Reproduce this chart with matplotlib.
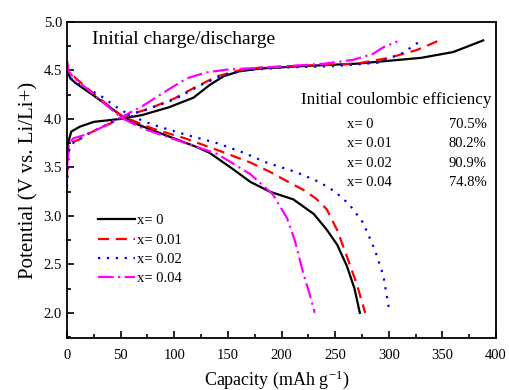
import numpy as np
import matplotlib.pyplot as plt
from matplotlib.ticker import MultipleLocator

plt.rcParams['font.family'] = ['Liberation Serif', 'DejaVu Serif']
plt.rcParams['mathtext.fontset'] = 'stix'

labels = ['x= 0', 'x= 0.01', 'x= 0.02', 'x= 0.04']
colors = ['black', 'red', 'blue', 'magenta']
styles = ['-', (0, (5, 3)), (0, (1, 3)), (0, (7, 2, 1, 2))]

# charge curves (capacity mAh/g, potential V)
chg_cap = [
    [0, 1, 4, 12, 25, 50, 70, 95, 118, 133, 146, 160, 180, 220, 270, 300, 330, 360, 388],
    [0, 1, 5, 12, 24, 40, 51, 75, 100, 120, 140, 160, 180, 220, 270, 300, 326, 347],
    [0, 2, 8, 20, 35, 51, 75, 100, 125, 145, 165, 200, 250, 290, 313, 329],
    [0, 2, 6, 15, 30, 51, 70, 87, 100, 112, 130, 150, 200, 240, 267, 285, 295, 308],
]
chg_v = [
    [3.6, 3.75, 3.87, 3.92, 3.97, 4.0, 4.04, 4.12, 4.22, 4.35, 4.44, 4.49, 4.52, 4.545, 4.57, 4.6, 4.63, 4.69, 4.81],
    [3.4, 3.65, 3.76, 3.79, 3.87, 3.95, 4.02, 4.1, 4.21, 4.33, 4.44, 4.5, 4.53, 4.55, 4.57, 4.63, 4.71, 4.81],
    [3.3, 3.7, 3.78, 3.85, 3.93, 4.02, 4.1, 4.2, 4.35, 4.45, 4.5, 4.53, 4.545, 4.58, 4.68, 4.8],
    [3.5, 3.75, 3.8, 3.83, 3.9, 4.02, 4.13, 4.25, 4.34, 4.42, 4.48, 4.51, 4.54, 4.57, 4.61, 4.67, 4.74, 4.8],
]

# discharge curves
dis_cap = [
    [0, 1, 3, 8, 25, 50, 62, 90, 121, 133, 155, 171, 189, 211, 230, 242, 252, 261, 268, 273],
    [0, 1, 4, 25, 51, 80, 110, 140, 171, 190, 208, 220, 232, 242, 252, 261, 270, 278],
    [0, 3, 15, 30, 45, 60, 80, 110, 140, 165, 186, 214, 235, 250, 263, 276, 287, 295, 300],
    [0, 1, 5, 25, 51, 71, 100, 140, 171, 192, 205, 212, 220, 226, 231],
]
dis_v = [
    [4.55, 4.48, 4.42, 4.37, 4.24, 4.04, 3.96, 3.84, 3.71, 3.65, 3.48, 3.35, 3.25, 3.17, 3.02, 2.86, 2.7, 2.48, 2.25, 2.0],
    [4.6, 4.52, 4.46, 4.26, 4.03, 3.9, 3.8, 3.68, 3.55, 3.45, 3.34, 3.27, 3.18, 3.07, 2.85, 2.58, 2.3, 2.0],
    [4.5, 4.42, 4.33, 4.25, 4.13, 4.03, 3.94, 3.84, 3.75, 3.65, 3.55, 3.45, 3.35, 3.25, 3.12, 2.93, 2.65, 2.38, 2.05],
    [4.58, 4.5, 4.44, 4.25, 4.01, 3.9, 3.79, 3.64, 3.43, 3.22, 2.98, 2.76, 2.42, 2.2, 2.0],
]

ce_labels = ['x= 0', 'x= 0.01', 'x= 0.02', 'x= 0.04']
ce_values = ['70.5%', '80.2%', '90.9%', '74.8%']

fig = plt.figure(figsize=(5.09, 3.90), dpi=100)
ax = fig.add_axes([0.1316, 0.1333, 0.843, 0.8103])

for i in range(4):
    ax.plot(chg_cap[i], chg_v[i], color=colors[i], linestyle=styles[i], lw=1.6, label=labels[i])
    ax.plot(dis_cap[i], dis_v[i], color=colors[i], linestyle=styles[i], lw=1.6)

ax.set_xlim(0, 400)
ax.set_ylim(1.74, 5.0)
ax.xaxis.set_major_locator(MultipleLocator(50))
ax.xaxis.set_minor_locator(MultipleLocator(25))
ax.yaxis.set_major_locator(MultipleLocator(0.5))
ax.yaxis.set_minor_locator(MultipleLocator(0.25))
ax.yaxis.set_major_formatter(plt.FormatStrFormatter('%.1f'))
ax.tick_params(which='both', direction='in', top=False, right=False, labelsize=10.5, width=1.2)
ax.tick_params(which='major', length=5)
ax.tick_params(which='minor', length=3)
ax.tick_params(axis='x', pad=8)
for s in ax.spines.values():
    s.set_linewidth(1.3)

ax.set_xlabel('Capacity (mAh g$^{\\mathregular{-1}}$)', fontsize=13)
ax.xaxis.set_label_coords(0.49, -0.095)
ax.set_ylabel('Potential (V vs. Li/Li+)', fontsize=15, labelpad=4)

ax.text(23, 4.82, 'Initial charge/discharge', fontsize=14, va='center')
ax.text(218, 4.2, 'Initial coulombic efficiency', fontsize=12.3, va='center')
for j in range(4):
    y = 3.94 - j * 0.198
    ax.text(261, y, ce_labels[j], fontsize=10.5, va='center')
    ax.text(391, y, ce_values[j], fontsize=10.5, va='center', ha='right')

ax.legend(loc='upper left', bbox_to_anchor=(0.056, 0.415), frameon=False, fontsize=10.5,
          handlelength=2.5, handletextpad=0.15, labelspacing=0.42, borderpad=0)

fig.savefig('out.png', dpi=100)
